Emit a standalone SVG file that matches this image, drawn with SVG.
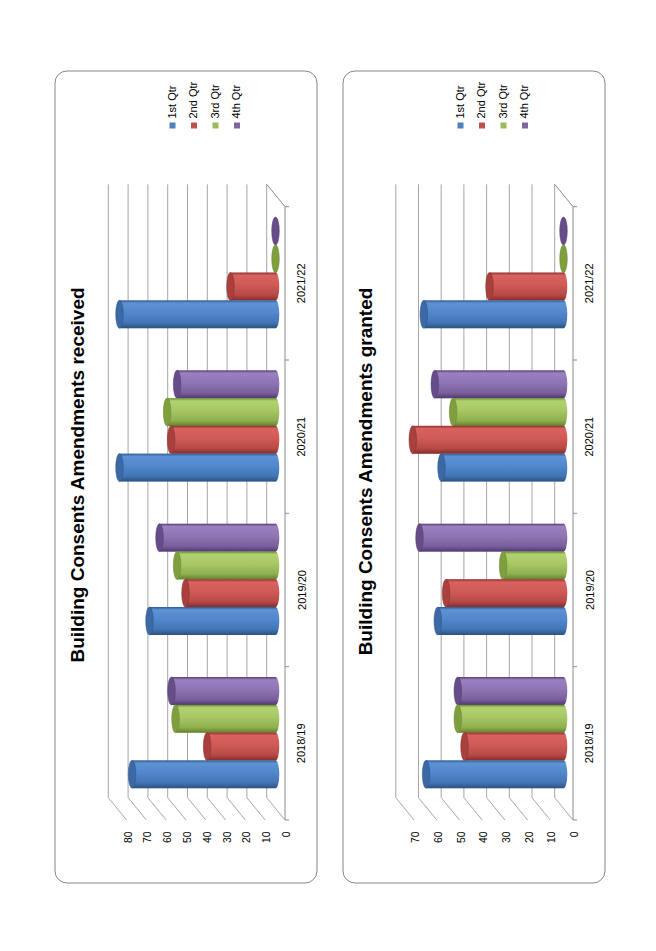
<svg xmlns="http://www.w3.org/2000/svg" width="656" height="951" viewBox="0 0 656 951">
<style>
.frame{fill:#fff;stroke:#868686;stroke-width:1}
.grid{stroke:#a6a6a6;stroke-width:1;fill:none}
.axis{stroke:#8c8c8c;stroke-width:1;fill:none}
.title{font-family:"Liberation Sans",Arial,sans-serif;font-size:19px;font-weight:bold;fill:#000;text-anchor:middle}
.val{font-family:"Liberation Sans",Arial,sans-serif;font-size:10.4px;fill:#000;text-anchor:end}
.cat{font-family:"Liberation Sans",Arial,sans-serif;font-size:11px;fill:#000;text-anchor:middle}
.leg{font-family:"Liberation Sans",Arial,sans-serif;font-size:11px;fill:#000;text-anchor:start}
.cb{fill:#3c69a6;stroke:#2f5689;stroke-width:.5}
.cr{fill:#a8403d;stroke:#8a302e;stroke-width:.5}
.cg{fill:#7f9f3f;stroke:#6a8632;stroke-width:.5}
.cp{fill:#664c89;stroke:#533c72;stroke-width:.5}
</style>
<defs>
<linearGradient id="gb" x1="0" y1="0" x2="0" y2="1"><stop offset="0" stop-color="#2f5a8f"/><stop offset=".1" stop-color="#5d92d3"/><stop offset=".45" stop-color="#5088cb"/><stop offset=".8" stop-color="#4275b4"/><stop offset="1" stop-color="#2c5181"/></linearGradient>
<linearGradient id="gr" x1="0" y1="0" x2="0" y2="1"><stop offset="0" stop-color="#8e2f2c"/><stop offset=".1" stop-color="#d8625e"/><stop offset=".45" stop-color="#cf5a56"/><stop offset=".8" stop-color="#b74a47"/><stop offset="1" stop-color="#862b29"/></linearGradient>
<linearGradient id="gg" x1="0" y1="0" x2="0" y2="1"><stop offset="0" stop-color="#6c8a33"/><stop offset=".1" stop-color="#b1d270"/><stop offset=".45" stop-color="#a6c763"/><stop offset=".8" stop-color="#90b050"/><stop offset="1" stop-color="#62802c"/></linearGradient>
<linearGradient id="gp" x1="0" y1="0" x2="0" y2="1"><stop offset="0" stop-color="#55407a"/><stop offset=".1" stop-color="#9a80bf"/><stop offset=".45" stop-color="#8f74b3"/><stop offset=".8" stop-color="#7a5f9d"/><stop offset="1" stop-color="#4e3a70"/></linearGradient>
</defs>

<!-- Chart 1 -->
<g id="chart-received">
<rect class="frame" x="55" y="71" width="262" height="812" rx="12"/>
<text class="title" x="84" y="475" transform="rotate(-90 84 475)">Building Consents Amendments received</text>
<g id="grid1">
<path class="grid" d="M266.7 184.3V797.7L285 820M246.9 184.3V797.7L265.2 820M227.1 184.3V797.7L245.4 820M207.3 184.3V797.7L225.6 820M187.5 184.3V797.7L205.8 820M167.7 184.3V797.7L186 820M147.9 184.3V797.7L166.2 820M128.1 184.3V797.7L146.4 820M108.3 184.3V797.7L126.6 820"/>
<path class="axis" d="M266.7 184.3L285 206.7V820M285 206.7H289M285 360H289M285 513.3H289M285 666.7H289M285 820H289"/>
</g>
<g id="vals1">
<text class="val" x="290" y="831.5" transform="rotate(-90 290 831.5)">0</text>
<text class="val" x="270.2" y="831.5" transform="rotate(-90 270.2 831.5)">10</text>
<text class="val" x="250.4" y="831.5" transform="rotate(-90 250.4 831.5)">20</text>
<text class="val" x="230.6" y="831.5" transform="rotate(-90 230.6 831.5)">30</text>
<text class="val" x="210.8" y="831.5" transform="rotate(-90 210.8 831.5)">40</text>
<text class="val" x="191" y="831.5" transform="rotate(-90 191 831.5)">50</text>
<text class="val" x="171.2" y="831.5" transform="rotate(-90 171.2 831.5)">60</text>
<text class="val" x="151.4" y="831.5" transform="rotate(-90 151.4 831.5)">70</text>
<text class="val" x="131.6" y="831.5" transform="rotate(-90 131.6 831.5)">80</text>
</g>
<g id="cats1">
<text class="cat" x="305.5" y="743.3" transform="rotate(-90 305.5 743.3)">2018/19</text>
<text class="cat" x="305.5" y="590" transform="rotate(-90 305.5 590)">2019/20</text>
<text class="cat" x="305.5" y="436.7" transform="rotate(-90 305.5 436.7)">2020/21</text>
<text class="cat" x="305.5" y="283.3" transform="rotate(-90 305.5 283.3)">2021/22</text>
</g>
<g id="bars1">
<!-- 2018/19 -->
<g id="c1-1819">
<ellipse cx="275.5" cy="691" rx="3.8" ry="14" fill="url(#gp)"/><rect x="171.5" y="677" width="104" height="28" fill="url(#gp)"/><ellipse class="cp" cx="171.5" cy="691" rx="3.8" ry="14"/>
<ellipse cx="275.5" cy="718.8" rx="3.8" ry="14" fill="url(#gg)"/><rect x="175.5" y="704.8" width="100" height="28" fill="url(#gg)"/><ellipse class="cg" cx="175.5" cy="718.8" rx="3.8" ry="14"/>
<ellipse cx="275.5" cy="746.5" rx="3.8" ry="14" fill="url(#gr)"/><rect x="207.1" y="732.5" width="68.4" height="28" fill="url(#gr)"/><ellipse class="cr" cx="207.1" cy="746.5" rx="3.8" ry="14"/>
<ellipse cx="275.5" cy="774.3" rx="3.8" ry="14" fill="url(#gb)"/><rect x="132.1" y="760.3" width="143.4" height="28" fill="url(#gb)"/><ellipse class="cb" cx="132.1" cy="774.3" rx="3.8" ry="14"/>
</g>
<g id="c1-1920">
<ellipse cx="275.5" cy="537.7" rx="3.8" ry="14" fill="url(#gp)"/><rect x="159.5" y="523.7" width="116" height="28" fill="url(#gp)"/><ellipse class="cp" cx="159.5" cy="537.7" rx="3.8" ry="14"/>
<ellipse cx="275.5" cy="565.5" rx="3.8" ry="14" fill="url(#gg)"/><rect x="177.1" y="551.5" width="98.4" height="28" fill="url(#gg)"/><ellipse class="cg" cx="177.1" cy="565.5" rx="3.8" ry="14"/>
<ellipse cx="275.5" cy="593.2" rx="3.8" ry="14" fill="url(#gr)"/><rect x="185.5" y="579.2" width="90" height="28" fill="url(#gr)"/><ellipse class="cr" cx="185.5" cy="593.2" rx="3.8" ry="14"/>
<ellipse cx="275.5" cy="621" rx="3.8" ry="14" fill="url(#gb)"/><rect x="149.5" y="607" width="126" height="28" fill="url(#gb)"/><ellipse class="cb" cx="149.5" cy="621" rx="3.8" ry="14"/>
</g>
<g id="c1-2021">
<ellipse cx="275.5" cy="384.3" rx="3.8" ry="14" fill="url(#gp)"/><rect x="177.1" y="370.3" width="98.4" height="28" fill="url(#gp)"/><ellipse class="cp" cx="177.1" cy="384.3" rx="3.8" ry="14"/>
<ellipse cx="275.5" cy="412.1" rx="3.8" ry="14" fill="url(#gg)"/><rect x="167.1" y="398.1" width="108.4" height="28" fill="url(#gg)"/><ellipse class="cg" cx="167.1" cy="412.1" rx="3.8" ry="14"/>
<ellipse cx="275.5" cy="439.8" rx="3.8" ry="14" fill="url(#gr)"/><rect x="171.1" y="425.8" width="104.4" height="28" fill="url(#gr)"/><ellipse class="cr" cx="171.1" cy="439.8" rx="3.8" ry="14"/>
<ellipse cx="275.5" cy="467.6" rx="3.8" ry="14" fill="url(#gb)"/><rect x="119.5" y="453.6" width="156" height="28" fill="url(#gb)"/><ellipse class="cb" cx="119.5" cy="467.6" rx="3.8" ry="14"/>
</g>
<g id="c1-2122">
<ellipse class="cp" cx="275.5" cy="231" rx="3.8" ry="14"/>
<ellipse class="cg" cx="275.5" cy="258.8" rx="3.8" ry="14"/>
<ellipse cx="275.5" cy="286.5" rx="3.8" ry="14" fill="url(#gr)"/><rect x="230.5" y="272.5" width="45" height="28" fill="url(#gr)"/><ellipse class="cr" cx="230.5" cy="286.5" rx="3.8" ry="14"/>
<ellipse cx="275.5" cy="314.3" rx="3.8" ry="14" fill="url(#gb)"/><rect x="119.5" y="300.3" width="156" height="28" fill="url(#gb)"/><ellipse class="cb" cx="119.5" cy="314.3" rx="3.8" ry="14"/>
</g>
</g>
<g id="legend1">
<rect x="169.5" y="122.5" width="6" height="6" fill="#4f81bd"/>
<rect x="191" y="122.5" width="6" height="6" fill="#c0504d"/>
<rect x="212.5" y="122.5" width="6" height="6" fill="#9bbb59"/>
<rect x="234" y="122.5" width="6" height="6" fill="#8064a2"/>
<text class="leg" x="175.7" y="118.5" transform="rotate(-90 175.7 118.5)">1st Qtr</text>
<text class="leg" x="197.2" y="118.5" transform="rotate(-90 197.2 118.5)">2nd Qtr</text>
<text class="leg" x="218.7" y="118.5" transform="rotate(-90 218.7 118.5)">3rd Qtr</text>
<text class="leg" x="240.2" y="118.5" transform="rotate(-90 240.2 118.5)">4th Qtr</text>
</g>
</g>

<!-- Chart 2 -->
<g id="chart-granted">
<rect class="frame" x="343" y="71" width="262" height="812" rx="12"/>
<text class="title" x="372" y="471.5" transform="rotate(-90 372 471.5)">Building Consents Amendments granted</text>
<g id="grid2">
<path class="grid" d="M554.7 184.3V797.7L573 820M532 184.3V797.7L550.3 820M509.3 184.3V797.7L527.6 820M486.6 184.3V797.7L504.9 820M463.9 184.3V797.7L482.2 820M441.2 184.3V797.7L459.5 820M418.5 184.3V797.7L436.8 820M395.8 184.3V797.7L414.1 820"/>
<path class="axis" d="M554.7 184.3L573 206.7V820M573 206.7H577M573 360H577M573 513.3H577M573 666.7H577M573 820H577"/>
</g>
<g id="vals2">
<text class="val" x="578" y="831.5" transform="rotate(-90 578 831.5)">0</text>
<text class="val" x="555.3" y="831.5" transform="rotate(-90 555.3 831.5)">10</text>
<text class="val" x="532.6" y="831.5" transform="rotate(-90 532.6 831.5)">20</text>
<text class="val" x="509.9" y="831.5" transform="rotate(-90 509.9 831.5)">30</text>
<text class="val" x="487.2" y="831.5" transform="rotate(-90 487.2 831.5)">40</text>
<text class="val" x="464.5" y="831.5" transform="rotate(-90 464.5 831.5)">50</text>
<text class="val" x="441.8" y="831.5" transform="rotate(-90 441.8 831.5)">60</text>
<text class="val" x="419.1" y="831.5" transform="rotate(-90 419.1 831.5)">70</text>
</g>
<g id="cats2">
<text class="cat" x="593.5" y="743.3" transform="rotate(-90 593.5 743.3)">2018/19</text>
<text class="cat" x="593.5" y="590" transform="rotate(-90 593.5 590)">2019/20</text>
<text class="cat" x="593.5" y="436.7" transform="rotate(-90 593.5 436.7)">2020/21</text>
<text class="cat" x="593.5" y="283.3" transform="rotate(-90 593.5 283.3)">2021/22</text>
</g>
<g id="bars2">
<g id="c2-1819">
<ellipse cx="563.5" cy="691" rx="3.8" ry="14" fill="url(#gp)"/><rect x="457.8" y="677" width="105.7" height="28" fill="url(#gp)"/><ellipse class="cp" cx="457.8" cy="691" rx="3.8" ry="14"/>
<ellipse cx="563.5" cy="718.8" rx="3.8" ry="14" fill="url(#gg)"/><rect x="457.8" y="704.8" width="105.7" height="28" fill="url(#gg)"/><ellipse class="cg" cx="457.8" cy="718.8" rx="3.8" ry="14"/>
<ellipse cx="563.5" cy="746.5" rx="3.8" ry="14" fill="url(#gr)"/><rect x="464.5" y="732.5" width="99" height="28" fill="url(#gr)"/><ellipse class="cr" cx="464.5" cy="746.5" rx="3.8" ry="14"/>
<ellipse cx="563.5" cy="774.3" rx="3.8" ry="14" fill="url(#gb)"/><rect x="426.1" y="760.3" width="137.4" height="28" fill="url(#gb)"/><ellipse class="cb" cx="426.1" cy="774.3" rx="3.8" ry="14"/>
</g>
<g id="c2-1920">
<ellipse cx="563.5" cy="537.7" rx="3.8" ry="14" fill="url(#gp)"/><rect x="419.5" y="523.7" width="144" height="28" fill="url(#gp)"/><ellipse class="cp" cx="419.5" cy="537.7" rx="3.8" ry="14"/>
<ellipse cx="563.5" cy="565.5" rx="3.8" ry="14" fill="url(#gg)"/><rect x="503.1" y="551.5" width="60.4" height="28" fill="url(#gg)"/><ellipse class="cg" cx="503.1" cy="565.5" rx="3.8" ry="14"/>
<ellipse cx="563.5" cy="593.2" rx="3.8" ry="14" fill="url(#gr)"/><rect x="446.1" y="579.2" width="117.4" height="28" fill="url(#gr)"/><ellipse class="cr" cx="446.1" cy="593.2" rx="3.8" ry="14"/>
<ellipse cx="563.5" cy="621" rx="3.8" ry="14" fill="url(#gb)"/><rect x="437.8" y="607" width="125.7" height="28" fill="url(#gb)"/><ellipse class="cb" cx="437.8" cy="621" rx="3.8" ry="14"/>
</g>
<g id="c2-2021">
<ellipse cx="563.5" cy="384.3" rx="3.8" ry="14" fill="url(#gp)"/><rect x="434.8" y="370.3" width="128.7" height="28" fill="url(#gp)"/><ellipse class="cp" cx="434.8" cy="384.3" rx="3.8" ry="14"/>
<ellipse cx="563.5" cy="412.1" rx="3.8" ry="14" fill="url(#gg)"/><rect x="453.1" y="398.1" width="110.4" height="28" fill="url(#gg)"/><ellipse class="cg" cx="453.1" cy="412.1" rx="3.8" ry="14"/>
<ellipse cx="563.5" cy="439.8" rx="3.8" ry="14" fill="url(#gr)"/><rect x="412.8" y="425.8" width="150.7" height="28" fill="url(#gr)"/><ellipse class="cr" cx="412.8" cy="439.8" rx="3.8" ry="14"/>
<ellipse cx="563.5" cy="467.6" rx="3.8" ry="14" fill="url(#gb)"/><rect x="441.5" y="453.6" width="122" height="28" fill="url(#gb)"/><ellipse class="cb" cx="441.5" cy="467.6" rx="3.8" ry="14"/>
</g>
<g id="c2-2122">
<ellipse class="cp" cx="563.5" cy="231" rx="3.8" ry="14"/>
<ellipse class="cg" cx="563.5" cy="258.8" rx="3.8" ry="14"/>
<ellipse cx="563.5" cy="286.5" rx="3.8" ry="14" fill="url(#gr)"/><rect x="489.5" y="272.5" width="74" height="28" fill="url(#gr)"/><ellipse class="cr" cx="489.5" cy="286.5" rx="3.8" ry="14"/>
<ellipse cx="563.5" cy="314.3" rx="3.8" ry="14" fill="url(#gb)"/><rect x="423.8" y="300.3" width="139.7" height="28" fill="url(#gb)"/><ellipse class="cb" cx="423.8" cy="314.3" rx="3.8" ry="14"/>
</g>
</g>
<g id="legend2">
<rect x="457.5" y="122.5" width="6" height="6" fill="#4f81bd"/>
<rect x="479" y="122.5" width="6" height="6" fill="#c0504d"/>
<rect x="500.5" y="122.5" width="6" height="6" fill="#9bbb59"/>
<rect x="522" y="122.5" width="6" height="6" fill="#8064a2"/>
<text class="leg" x="463.7" y="118.5" transform="rotate(-90 463.7 118.5)">1st Qtr</text>
<text class="leg" x="485.2" y="118.5" transform="rotate(-90 485.2 118.5)">2nd Qtr</text>
<text class="leg" x="506.7" y="118.5" transform="rotate(-90 506.7 118.5)">3rd Qtr</text>
<text class="leg" x="528.2" y="118.5" transform="rotate(-90 528.2 118.5)">4th Qtr</text>
</g>
</g>
</svg>
